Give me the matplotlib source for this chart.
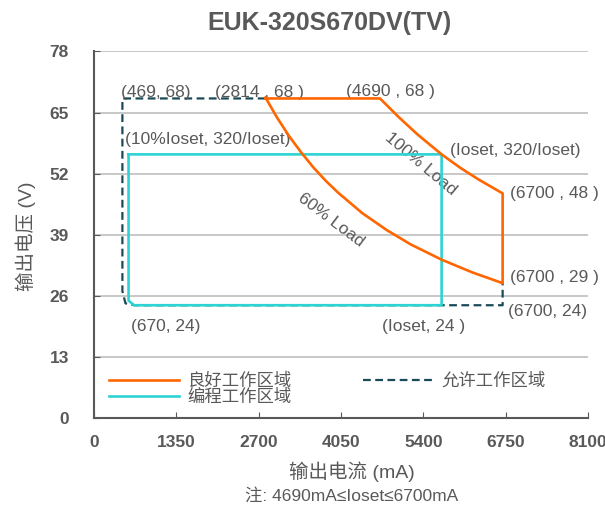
import matplotlib
matplotlib.use("Agg")
import matplotlib.pyplot as plt

plt.rcParams['font.family'] = ['Liberation Sans', 'Noto Sans CJK SC', 'DejaVu Sans']

gris = '#595959'
naranja = '#FF6600'
cian = '#2ED3D3'
oscuro = '#1A4A57'

# zona buena: tramo superior, curva 100% carga, curva 60% carga
top_i = [2814, 4690]
top_v = [68, 68]
full_i = [4690, 5000, 5300, 5700, 6000, 6300, 6700]
full_v = [68, 64, 60.4, 56.1, 53.3, 50.8, 47.8]
sixty_i = [2814, 3000, 3200, 3400, 3600, 3800, 4000, 4400, 4800, 5200, 5700, 6200, 6700]
sixty_v = [68.2, 64, 60, 56.5, 53.3, 50.5, 48, 43.6, 40, 36.9, 33.7, 31, 28.7]

# zona permitida (discontinua)
perm_i = [2814, 469, 469, 520, 670, 6700, 6700]
perm_v = [68, 68, 27, 24.4, 24, 24, 28.7]

# zona programable
prog_i = [570, 5700, 5700, 660, 570, 570]
prog_v = [56.1, 56.1, 24, 24, 25, 56.1]

xticks = [0, 1350, 2700, 4050, 5400, 6750, 8100]
yticks = [0, 13, 26, 39, 52, 65, 78]

etiquetas = [
    ("(469, 68)", 440, 69.2),
    ("(2814 , 68 )", 1990, 69.2),
    ("(4690 , 68 )", 4130, 69.4),
    ("(10%Ioset, 320/Ioset)", 510, 59.2),
    ("(Ioset, 320/Ioset)", 5840, 56.9),
    ("(6700 , 48 )", 6820, 47.8),
    ("(6700 , 29 )", 6820, 29.9),
    ("(6700, 24)", 6790, 22.6),
    ("(Ioset, 24 )", 4716, 19.4),
    ("(670, 24)", 618, 19.4),
]

fig = plt.figure(figsize=(6.05, 5.07), dpi=100)
ax = fig.add_axes([0.155, 0.1755, 0.817, 0.723])

good_i = top_i + full_i[1:] + sixty_i[::-1]
good_v = top_v + full_v[1:] + sixty_v[::-1]

ax.plot(perm_i, perm_v, '--', color=oscuro, linewidth=1.6, dashes=(3.5, 2), label='允许工作区域', zorder=3)
ax.plot(prog_i, prog_v, '-', color=cian, linewidth=1.9, label='编程工作区域', zorder=4)
ax.plot(good_i, good_v, '-', color=naranja, linewidth=1.9, label='良好工作区域', zorder=5)

for s, x, y in etiquetas:
    ax.text(x, y, s, fontsize=12.5, color=gris, ha='left', va='center')

ax.text(5360, 54, "100% Load", fontsize=12.5, color=gris, rotation=-40,
        ha='center', va='center', rotation_mode='anchor')
ax.text(3885, 42.2, "60% Load", fontsize=12.5, color=gris, rotation=-37,
        ha='center', va='center', rotation_mode='anchor')

ax.set_xlim(0, 8100)
ax.set_ylim(0, 78)
ax.set_xticks(xticks)
ax.set_yticks(yticks)
ax.tick_params(direction='in', length=4, color=gris, labelsize=12.5, labelcolor=gris)
ax.tick_params(axis='x', pad=12)
ax.tick_params(axis='y', pad=18)
for lb in ax.get_xticklabels() + ax.get_yticklabels():
    lb.set_fontweight('bold')
ax.yaxis.grid(True, color='#BFBFBF', linewidth=1.2)
ax.set_axisbelow(True)
for sp in ['top', 'right']:
    ax.spines[sp].set_visible(False)
for sp in ['left', 'bottom']:
    ax.spines[sp].set_color(gris)
    ax.spines[sp].set_linewidth(1.5)

h, l = ax.get_legend_handles_labels()
orden = [2, 1, 0]
ax.legend([h[i] for i in orden], [l[i] for i in orden], ncol=2, frameon=False,
          loc='upper left', bbox_to_anchor=(0.0, 0.168), fontsize=12.5,
          handlelength=4, labelspacing=0.02, columnspacing=4.1,
          labelcolor=gris, handletextpad=0.5)

fig.text(0.545, 0.955, "EUK-320S670DV(TV)", fontsize=18, fontweight='bold', color=gris,
         ha='center', va='center')
fig.text(0.582, 0.069, "输出电流 (mA)", fontsize=14, color=gris, ha='center', va='center')
fig.text(0.582, 0.023, "注: 4690mA≤Ioset≤6700mA", fontsize=12.5, color=gris, ha='center', va='center')
fig.text(0.042, 0.535, "输出电压 (V)", fontsize=14, color=gris, ha='center', va='center', rotation=90)

fig.savefig("out.png", dpi=100)
